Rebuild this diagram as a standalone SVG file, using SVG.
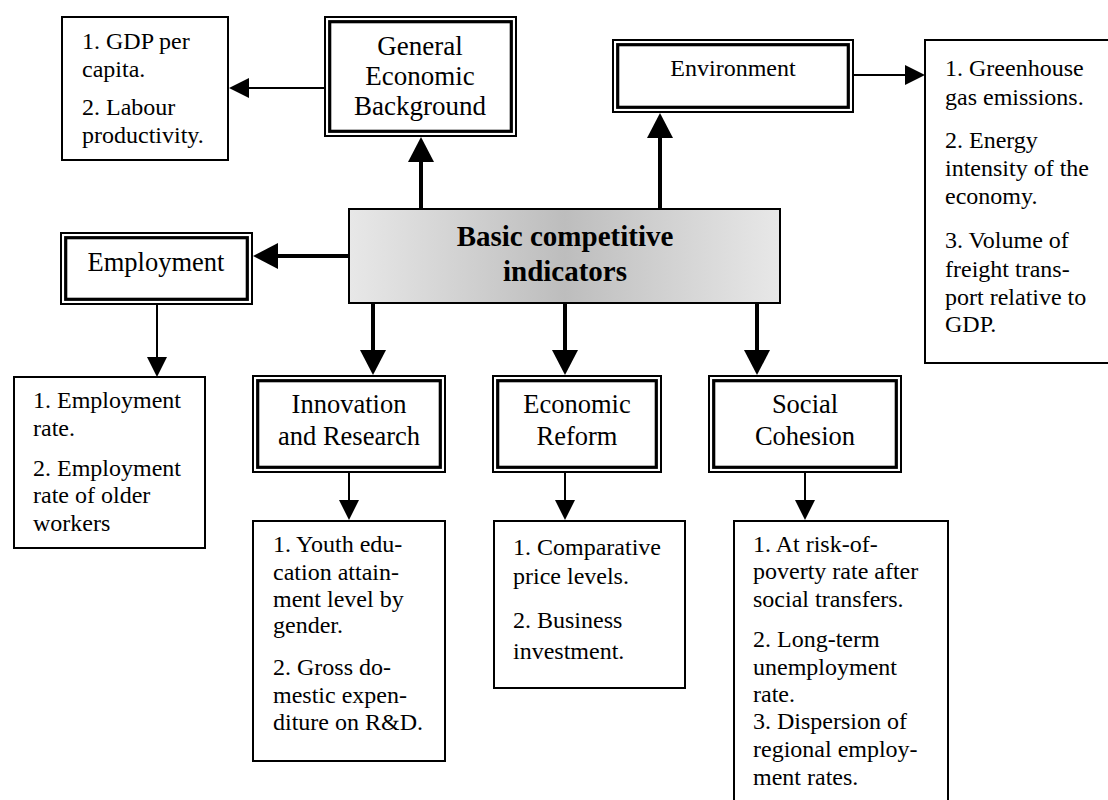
<svg xmlns="http://www.w3.org/2000/svg" width="1108" height="800" viewBox="0 0 1108 800">
<style>
text{font-family:"Liberation Serif","Times New Roman",serif;fill:#000}
.lst{font-size:24px}
.lbl{font-size:26.5px;text-anchor:middle}
.ttl{font-size:29px;font-weight:bold;text-anchor:middle}
.box{fill:#fff;stroke:#000;stroke-width:2}
.dbo{fill:#fff;stroke:#000;stroke-width:2}
.dbi{fill:none;stroke:#000;stroke-width:3.2}
.thick{fill:none;stroke:#000;stroke-width:4;marker-end:url(#hk)}
.thin{fill:none;stroke:#000;stroke-width:2;marker-end:url(#hn)}
</style>
<defs>
<linearGradient id="g" x1="0" y1="0" x2="1" y2="0">
<stop offset="0" stop-color="#e8e8e8"/>
<stop offset="0.5" stop-color="#bdbdbd"/>
<stop offset="1" stop-color="#e8e8e8"/>
</linearGradient>
<marker id="hk" markerUnits="userSpaceOnUse" viewBox="0 0 25 26" refX="0" refY="13" markerWidth="25" markerHeight="26" orient="auto"><path d="M0,0 L25,13 L0,26 z" fill="#000"/></marker>
<marker id="hn" markerUnits="userSpaceOnUse" viewBox="0 0 20 20" refX="0" refY="10" markerWidth="20" markerHeight="20" orient="auto"><path d="M0,0 L20,10 L0,20 z" fill="#000"/></marker>
</defs>
<rect width="1108" height="800" fill="#fff"/>

<g id="connectors">
<path class="thick" d="M421,208 V162"/>
<path class="thick" d="M660,208 V138"/>
<path class="thick" d="M348,256 H278"/>
<path class="thick" d="M373,304 V350"/>
<path class="thick" d="M565,304 V350"/>
<path class="thick" d="M757,304 V350"/>
<path class="thin" d="M324,88 H249"/>
<path class="thin" d="M854,75 H905"/>
<path class="thin" d="M157,305 V357"/>
<path class="thin" d="M349,473 V500"/>
<path class="thin" d="M565,473 V500"/>
<path class="thin" d="M805,473 V500"/>
</g>

<g id="center">
<rect x="349" y="209" width="431" height="94" fill="url(#g)" stroke="#000" stroke-width="2"/>
<text class="ttl" x="565" y="246">Basic competitive</text>
<text class="ttl" x="565" y="281">indicators</text>
</g>

<g id="geb">
<rect class="dbo" x="325" y="17" width="191" height="119"/>
<rect class="dbi" x="329.7" y="21.7" width="181.6" height="109.6"/>
<text class="lbl" x="420" y="55" style="font-size:27px">General</text>
<text class="lbl" x="420" y="85" style="font-size:27px">Economic</text>
<text class="lbl" x="420" y="115" style="font-size:27px">Background</text>
</g>

<g id="gdp">
<rect class="box" x="62" y="17" width="166" height="143"/>
<text class="lst" x="82" y="49">1. GDP per</text>
<text class="lst" x="82" y="77">capita.</text>
<text class="lst" x="82" y="115">2. Labour</text>
<text class="lst" x="82" y="143">productivity.</text>
</g>

<g id="environment">
<rect class="dbo" x="613" y="40" width="240" height="72"/>
<rect class="dbi" x="617.7" y="44.7" width="230.6" height="62.6"/>
<text class="lbl" x="733" y="76" style="font-size:24px">Environment</text>
</g>

<g id="env-list">
<rect class="box" x="925" y="40" width="190" height="323"/>
<text class="lst" x="945" y="76">1. Greenhouse</text>
<text class="lst" x="945" y="105">gas emissions.</text>
<text class="lst" x="945" y="148">2. Energy</text>
<text class="lst" x="945" y="176">intensity of the</text>
<text class="lst" x="945" y="204">economy.</text>
<text class="lst" x="945" y="248">3. Volume of</text>
<text class="lst" x="945" y="277">freight trans-</text>
<text class="lst" x="945" y="305">port relative to</text>
<text class="lst" x="945" y="332">GDP.</text>
</g>

<g id="employment">
<rect class="dbo" x="61" y="233" width="191" height="71"/>
<rect class="dbi" x="65.7" y="237.7" width="181.6" height="61.6"/>
<text class="lbl" x="156" y="271">Employment</text>
</g>

<g id="emp-list">
<rect class="box" x="14" y="377" width="191" height="171"/>
<text class="lst" x="33" y="408">1. Employment</text>
<text class="lst" x="33" y="436">rate.</text>
<text class="lst" x="33" y="476">2. Employment</text>
<text class="lst" x="33" y="503">rate of older</text>
<text class="lst" x="33" y="531">workers</text>
</g>

<g id="innovation">
<rect class="dbo" x="253" y="376" width="192" height="96"/>
<rect class="dbi" x="257.7" y="380.7" width="182.6" height="86.6"/>
<text class="lbl" x="349" y="413">Innovation</text>
<text class="lbl" x="349" y="445">and Research</text>
</g>

<g id="innov-list">
<rect class="box" x="253" y="521" width="192" height="240"/>
<text class="lst" x="273" y="552">1. Youth edu-</text>
<text class="lst" x="273" y="580">cation attain-</text>
<text class="lst" x="273" y="607">ment level by</text>
<text class="lst" x="273" y="633">gender.</text>
<text class="lst" x="273" y="675">2. Gross do-</text>
<text class="lst" x="273" y="703">mestic expen-</text>
<text class="lst" x="273" y="730">diture on R&amp;D.</text>
</g>

<g id="econ-reform">
<rect class="dbo" x="493" y="376" width="168" height="96"/>
<rect class="dbi" x="497.7" y="380.7" width="158.6" height="86.6"/>
<text class="lbl" x="577" y="413">Economic</text>
<text class="lbl" x="577" y="445">Reform</text>
</g>

<g id="econ-list">
<rect class="box" x="494" y="521" width="191" height="167"/>
<text class="lst" x="513" y="555">1. Comparative</text>
<text class="lst" x="513" y="584">price levels.</text>
<text class="lst" x="513" y="628">2. Business</text>
<text class="lst" x="513" y="659">investment.</text>
</g>

<g id="social">
<rect class="dbo" x="709" y="376" width="192" height="96"/>
<rect class="dbi" x="713.7" y="380.7" width="182.6" height="86.6"/>
<text class="lbl" x="805" y="413">Social</text>
<text class="lbl" x="805" y="445">Cohesion</text>
</g>

<g id="social-list">
<rect class="box" x="734" y="521" width="214" height="290"/>
<text class="lst" x="753" y="552">1. At risk-of-</text>
<text class="lst" x="753" y="579">poverty rate after</text>
<text class="lst" x="753" y="607">social transfers.</text>
<text class="lst" x="753" y="647">2. Long-term</text>
<text class="lst" x="753" y="675">unemployment</text>
<text class="lst" x="753" y="702">rate.</text>
<text class="lst" x="753" y="729">3. Dispersion of</text>
<text class="lst" x="753" y="757">regional employ-</text>
<text class="lst" x="753" y="785">ment rates.</text>
</g>
</svg>
